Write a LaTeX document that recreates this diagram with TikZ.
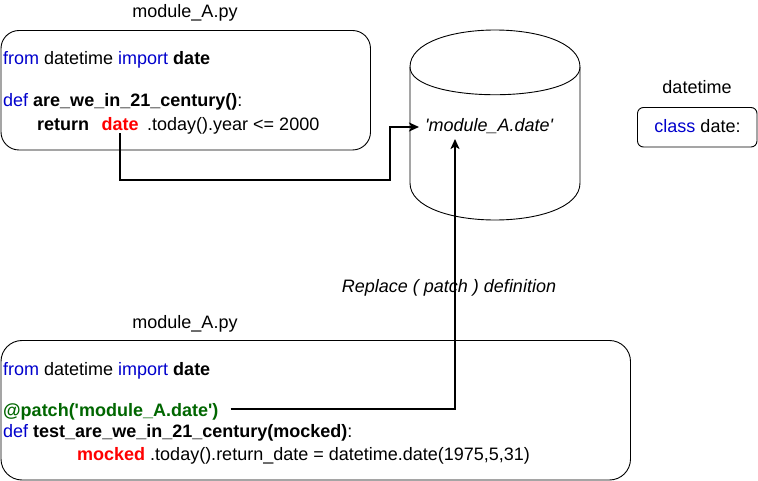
\documentclass[tikz,border=0pt]{standalone}
\usepackage{fontspec}
\setmainfont{Liberation Sans}[Ligatures=TeXOff]
\usetikzlibrary{arrows.meta}
\definecolor{kwblue}{HTML}{0000CC}
\definecolor{kwred}{HTML}{FF0000}
\definecolor{kwgreen}{HTML}{006600}
\begin{document}
\begin{tikzpicture}[x=1pt,y=-1pt,
  txt/.style={inner sep=0pt,anchor=base west,font=\fontsize{18}{21}\selectfont,text height=13pt,text depth=4pt},
  ctxt/.style={txt,anchor=base},
  boxline/.style={draw=black,line width=0.9pt},
  conn/.style={draw=black,line width=1.8pt},
  arr/.style={-{Stealth[length=10pt,width=9pt,inset=2.5pt]}}
]
\useasboundingbox (0,0) rectangle (758,481);

% ---- top box ----
\draw[boxline,rounded corners=18pt] (1,30.5) rectangle (370.5,150);
\node[ctxt] (lblA) at (185,17.5) {module\_A.py};
\node[txt] (a1) at (3,65) {\textcolor{kwblue}{from} datetime \textcolor{kwblue}{import} \textbf{date}};
\node[txt] (a2) at (3,107) {\textcolor{kwblue}{def} \textbf{are\_we\_in\_21\_century()}:};
\node[txt] (a3) at (37,131) {\textbf{return}};
\node[txt,text=kwred,font=\fontsize{18}{21}\selectfont\bfseries] (d1) at (101.5,131) {date};
\node[txt] (a4) at (147,131) {.today().year <= 2000};

% ---- cylinder ----
\draw[boxline] (410,67) .. controls (410,17.67) and (580,17.67) .. (580,67)
  -- (580,183) .. controls (580,232.33) and (410,232.33) .. (410,183) -- cycle;
\draw[boxline] (410,67) .. controls (410,104) and (580,104) .. (580,67);
\node[txt,font=\fontsize{18}{21}\selectfont\itshape] (cyl) at (425,131.5) {'module\_A.date'};

% ---- datetime box ----
\node[ctxt] (lblD) at (697,94) {datetime};
\draw[boxline,rounded corners=6pt] (637.5,107.5) rectangle (757,147);
\node[ctxt] (cls) at (697.5,133) {\textcolor{kwblue}{class} date:};

% ---- bottom box ----
\node[ctxt] (lblB) at (185,328) {module\_A.py};
\draw[boxline,rounded corners=21pt] (1,340.5) rectangle (630.5,480);
\node[txt] (b1) at (3,375) {\textcolor{kwblue}{from} datetime \textcolor{kwblue}{import} \textbf{date}};
\node[txt,text=kwgreen,font=\fontsize{18}{21}\selectfont\bfseries] (patch) at (3,416) {@patch('module\_A.date')};
\node[txt] (b3) at (3,437) {\textcolor{kwblue}{def} \textbf{test\_are\_we\_in\_21\_century(mocked)}:};
\node[txt] (b4) at (77,460) {\textcolor{kwred}{\textbf{mocked}} .today().return\_date = datetime.date(1975,5,31)};

\node[txt,anchor=base,font=\fontsize{18}{21}\selectfont\itshape] (rep) at (449,293) {Replace ( patch ) definition};

% ---- connectors ----
\coordinate (c1) at (390,180);
\draw[conn,arr] ([yshift=2pt]d1.south) |- (c1) |- ([xshift=-6pt]cyl.west);
\coordinate (c2) at (455,409);
\coordinate (ptip) at (455,139);
\draw[conn,arr] ([shift={(12,-7)}]patch.base east) -- (c2) -- (ptip);
\end{tikzpicture}
\end{document}
